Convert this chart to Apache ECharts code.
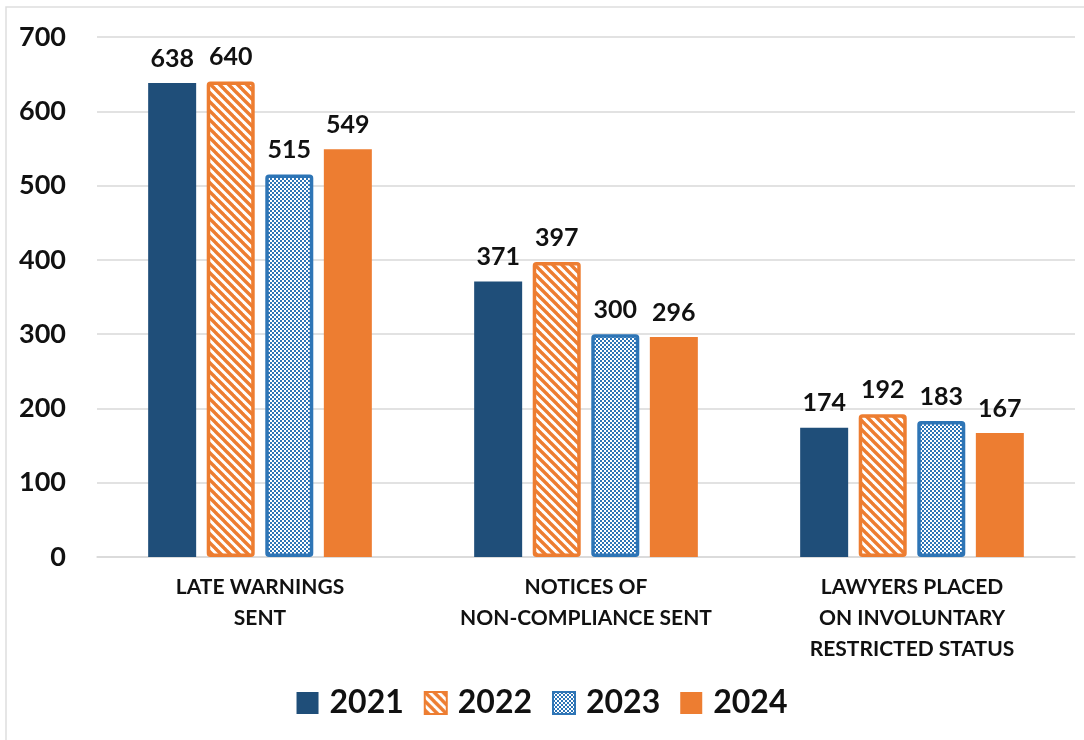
<!DOCTYPE html>
<html>
<head>
<meta charset="utf-8">
<script src="https://cdn.jsdelivr.net/npm/echarts@6/dist/echarts.min.js"></script>
<style>
  html, body { margin: 0; padding: 0; background: #fff; }
  #chart { width: 1084px; height: 740px; }
</style>
</head>
<body>
<div id="chart"></div>
<script>
  // data
  const categories = ['LATE WARNINGS\nSENT', 'NOTICES OF\nNON-COMPLIANCE SENT', 'LAWYERS PLACED\nON INVOLUNTARY\nRESTRICTED STATUS']
  const years = ['2021', '2022', '2023', '2024']
  const v2021 = [638, 371, 174]
  const v2022 = [640, 397, 192]
  const v2023 = [515, 300, 183]
  const v2024 = [549, 296, 167]
  const yTicks = [0, 700, 100]  // min, max, step

  const FONT = 'Lato, "Open Sans", sans-serif'
  const navy = '#1F4E79'
  const orange = '#ED7D31'
  const blue = '#2E75B6'

  // diagonal stripes, orange on white
  function stripes() {
    const c = document.createElement('canvas')
    c.width = 9
    c.height = 9
    const ctx = c.getContext('2d')
    ctx.fillStyle = '#fff'
    ctx.fillRect(0, 0, 9, 9)
    ctx.strokeStyle = orange
    ctx.lineWidth = 3.4
    for (let k = -1; k <= 1; k++) {
      ctx.beginPath()
      ctx.moveTo(k * 9 - 1, -1)
      ctx.lineTo(k * 9 + 10, 10)
      ctx.stroke()
    }
    return c
  }

  // small checkerboard, blue on white
  function checker() {
    const c = document.createElement('canvas')
    c.width = 4
    c.height = 4
    const ctx = c.getContext('2d')
    ctx.fillStyle = '#fff'
    ctx.fillRect(0, 0, 4, 4)
    ctx.fillStyle = blue
    ctx.fillRect(0, 0, 2, 2)
    ctx.fillRect(2, 2, 2, 2)
    return c
  }

  const label = {
    show: true,
    position: 'top',
    distance: 12,
    color: '#111',
    fontFamily: FONT,
    fontWeight: 'bold',
    fontSize: 25
  }

  const chart = echarts.init(document.getElementById('chart'))
  chart.setOption({
    backgroundColor: '#fff',
    animation: false,
    graphic: [{
      type: 'rect',
      shape: { x: 6, y: 7, width: 1200, height: 900 },
      style: { fill: 'none', stroke: '#dedede', lineWidth: 1.5 },
      silent: true
    }],
    grid: {
      left: 97,
      right: 9,
      top: 37,
      bottom: 183
    },
    legend: {
      bottom: 16,
      left: 'center',
      itemWidth: 22,
      itemHeight: 22,
      itemGap: 20,
      icon: 'rect',
      textStyle: {
        color: '#111',
        fontFamily: FONT,
        fontWeight: 'bold',
        fontSize: 32,
        padding: [0, 0, 0, 6]
      },
      data: years
    },
    xAxis: {
      type: 'category',
      data: categories,
      axisLine: { lineStyle: { color: '#d9d9d9', width: 1.5 } },
      axisTick: { show: false },
      axisLabel: {
        interval: 0,
        margin: 15,
        lineHeight: 31,
        color: '#111',
        fontFamily: FONT,
        fontWeight: 'bold',
        fontSize: 21
      }
    },
    yAxis: {
      type: 'value',
      min: yTicks[0],
      max: yTicks[1],
      interval: yTicks[2],
      axisLine: { show: false },
      axisTick: { show: false },
      splitLine: { lineStyle: { color: '#d9d9d9', width: 1.5 } },
      axisLabel: {
        margin: 31,
        color: '#111',
        fontFamily: FONT,
        fontWeight: 'bold',
        fontSize: 27
      }
    },
    series: [{
      name: years[0],
      type: 'bar',
      barWidth: 48,
      barGap: '22%',
      data: v2021,
      itemStyle: { color: navy },
      label: label
    }, {
      name: years[1],
      type: 'bar',
      barWidth: 48,
      barGap: '22%',
      data: v2022,
      itemStyle: {
        color: { image: stripes(), repeat: 'repeat' },
        borderColor: orange,
        borderWidth: 3.5,
        borderRadius: 2
      },
      label: label
    }, {
      name: years[2],
      type: 'bar',
      barWidth: 48,
      barGap: '22%',
      data: v2023,
      itemStyle: {
        color: { image: checker(), repeat: 'repeat' },
        borderColor: blue,
        borderWidth: 3.5,
        borderRadius: 2
      },
      label: label
    }, {
      name: years[3],
      type: 'bar',
      barWidth: 48,
      barGap: '22%',
      data: v2024,
      itemStyle: { color: orange },
      label: label
    }]
  })
</script>
</body>
</html>
